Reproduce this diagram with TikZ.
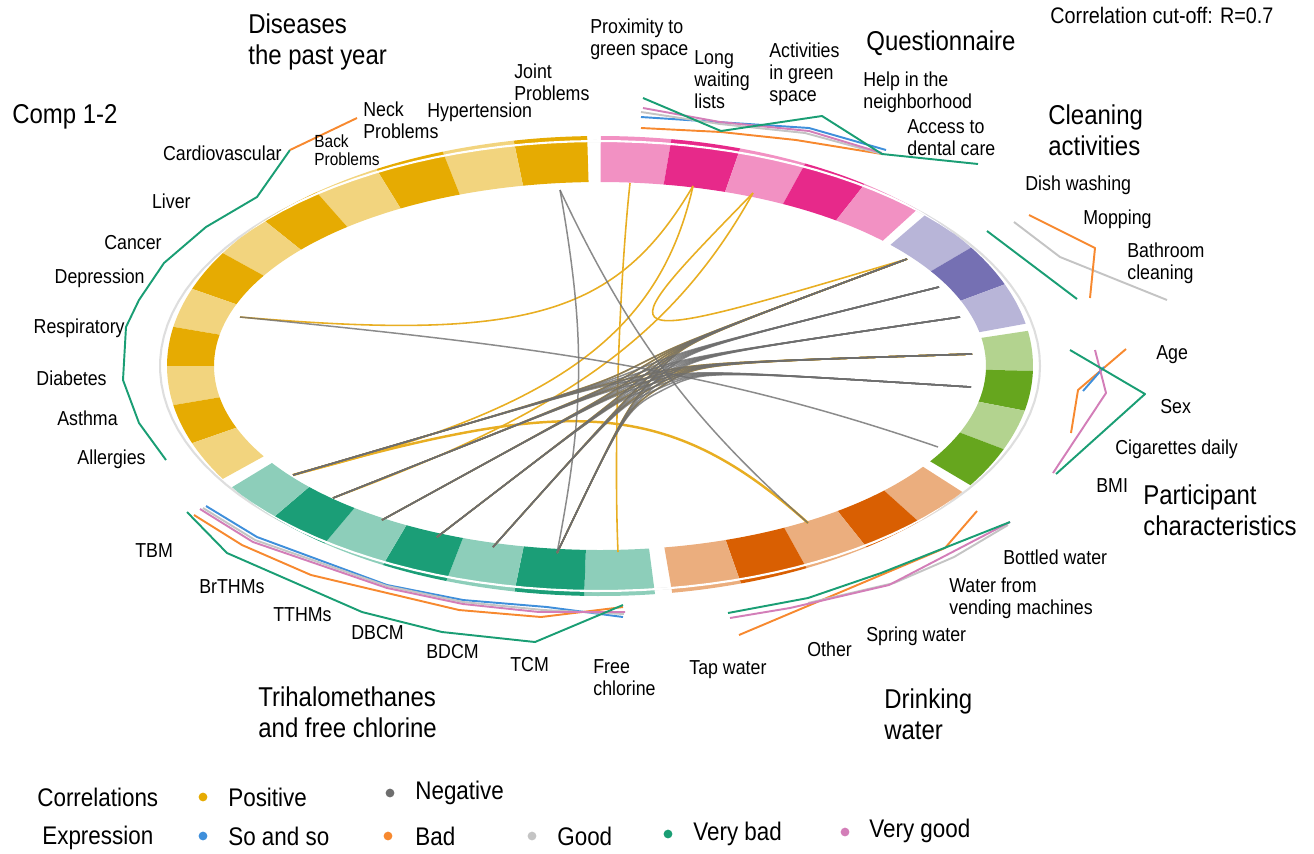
\documentclass[tikz,border=0pt]{standalone}
\usepackage{fontspec}
\setmainfont{Liberation Sans}[FakeStretch=0.88]
\usetikzlibrary{calc}
\definecolor{ydark}{HTML}{E6AB02}
\definecolor{ylight}{HTML}{F2D47E}
\definecolor{pdark}{HTML}{E7298A}
\definecolor{plight}{HTML}{F291C3}
\definecolor{vdark}{HTML}{7570B3}
\definecolor{vlight}{HTML}{B8B5D8}
\definecolor{gdark}{HTML}{66A61E}
\definecolor{glight}{HTML}{B3D38F}
\definecolor{odark}{HTML}{D95F02}
\definecolor{olight}{HTML}{EBAE7E}
\definecolor{tdark}{HTML}{1B9E77}
\definecolor{tlight}{HTML}{8DCEBA}
\definecolor{posc}{HTML}{E8AE22}
\definecolor{negc}{HTML}{6E6E6E}
\definecolor{eso}{HTML}{3F8FDB}
\definecolor{ebad}{HTML}{F7892F}
\definecolor{egood}{HTML}{C4C4C4}
\definecolor{evbad}{HTML}{1A9E74}
\definecolor{evgood}{HTML}{D37EB8}
\newcommand{\ringseg}[3]{\fill[#3] plot[domain=#1:#2,samples=12] ({600+433*cos(\x)},{366-230*sin(\x)}) -- plot[domain=#2:#1,samples=12] ({600+386*cos(\x)},{366-184*sin(\x)}) -- cycle;}
% chord: style, from, to, hub near from, hub near to, pull
\newcommand{\chordh}[6]{\draw[#1] (#2) .. controls ($(#2)!#6!(#4)$) and ($(#3)!#6!(#5)$) .. (#3);}
% bundled chord through the waist between two control points
\newcommand{\chordm}[5]{\draw[#1] (#2) .. controls (#4) .. ($(#4)!0.5!(#5)$) .. controls (#5) .. (#3);}
\tikzset{
  lab/.style={font=\fontsize{11.5}{12.5}\selectfont, align=left, inner sep=0pt},
  labl/.style={lab, anchor=west},
  labr/.style={lab, anchor=east},
  ttl/.style={font=\fontsize{15.5}{17.6}\selectfont, align=left, inner sep=0pt, anchor=west},
  leg/.style={font=\fontsize{14.5}{16}\selectfont, inner sep=0pt, anchor=west},
  poschord/.style={draw=posc, line width=0.9pt},
  negchord/.style={draw=negc, line width=0.85pt, opacity=0.8},
  expr/.style={line width=1.1pt, line join=round},
  legdot/.style={circle, inner sep=0pt, minimum size=5pt},
  track/.style={line width=1.2pt}
}
\begin{document}
\begin{tikzpicture}[x=0.02cm, y=-0.02cm]
\useasboundingbox (0,0) rectangle (1314,853);
% track ellipse (grey outside the ring, white inside it)
\draw[track, black!13] plot[domain=0:360,samples=120] ({600+440*cos(\x)},{366-225*sin(\x)});
% ring segments
\foreach \a/\b/\c in {89.9/80.5/plight, 80.5/71.1/pdark, 71.1/61.7/plight, 61.7/52.3/pdark, 52.3/42.9/plight,
  41.2/31.0/vlight, 31.0/20.8/vdark, 20.8/10.6/vlight,
  8.8/-1.2/glight, -1.2/-11.2/gdark, -11.2/-21.2/glight, -21.2/-31.2/gdark,
  -33.2/-42.6/olight, -42.6/-52.0/odark, -52.0/-61.5/olight, -61.5/-71.0/odark, -71.0/-80.4/olight,
  -82.7/-92.1/tlight, -92.1/-101.4/tdark, -101.4/-110.8/tlight, -110.8/-120.1/tdark, -120.1/-129.5/tlight, -129.5/-138.9/tdark, -138.9/-148.2/tlight,
  91.7/101.5/ydark, 101.5/111.3/ylight, 111.3/121.1/ydark, 121.1/130.9/ylight, 130.9/140.8/ydark, 140.8/150.6/ylight,
  150.6/160.4/ydark, 160.4/170.2/ylight, 170.2/180.0/ydark, 180.0/189.8/ylight, 189.8/199.6/ydark, 199.6/209.4/ylight}
  {\ringseg{\a}{\b}{\c}}
\begin{scope}
\clip plot[domain=0:360,samples=120] ({600+433*cos(\x)},{366-230*sin(\x)}) -- cycle;
\draw[track, white] plot[domain=0:360,samples=120] ({600+440*cos(\x)},{366-225*sin(\x)});
\end{scope}
% chord end points
\coordinate (joint) at (560,190);
\coordinate (prox) at (630,183);
\coordinate (longw) at (693,186);
\coordinate (activ) at (753,193);
\coordinate (dish) at (907,259);
\coordinate (mop) at (939,287);
\coordinate (bath) at (960,317);
\coordinate (age) at (972,354);
\coordinate (sex) at (971,387);
\coordinate (bmi) at (938,447);
\coordinate (spring) at (808,523);
\coordinate (freecl) at (618,552);
\coordinate (tcm) at (557,553);
\coordinate (bdcm) at (493,547);
\coordinate (dbcm) at (437,537);
\coordinate (tthm) at (382,520);
\coordinate (brthm) at (333,498);
\coordinate (tbm) at (293,475);
\coordinate (resp) at (240,317);
% bundle control points
\coordinate (c-tbm) at (596,386);
\coordinate (c-brthm) at (602,391);
\coordinate (c-tthm) at (608,396);
\coordinate (c-dbcm) at (614,401);
\coordinate (c-bdcm) at (620,405);
\coordinate (c-tcm) at (626,409);
\coordinate (c-dish) at (684,342);
\coordinate (c-mop) at (689,349);
\coordinate (c-bath) at (694,356);
\coordinate (c-age) at (698,363);
\coordinate (c-sex) at (702,370);
% other hubs
\coordinate (hubL) at (612,395);
\coordinate (hubM) at (650,378);
\coordinate (hubJ) at (592,372);
\coordinate (hubS) at (652,385);
\coordinate (hubP) at (610,368);
\coordinate (hubA) at (600,350);
\coordinate (hubW) at (598,348);
\coordinate (rb1) at (520,345);
\coordinate (rb2) at (700,365);
\coordinate (sp1) at (665,395);
\coordinate (sp2) at (565,398);
% positive chords
\foreach \t in {tbm,brthm,tthm,dbcm,bdcm,tcm}{\chordm{poschord}{\t}{dish}{c-\t}{c-dish}\chordm{poschord}{\t}{age}{c-\t}{c-age}}
\chordh{poschord}{prox}{freecl}{hubP}{hubP}{0.55}
\chordh{poschord}{longw}{resp}{hubW}{hubW}{0.8}
\chordh{poschord}{longw}{tbm}{hubM}{hubL}{0.8}
\chordh{poschord}{activ}{dish}{hubA}{hubA}{1}
\chordh{poschord}{activ}{brthm}{hubM}{hubL}{0.8}
\draw[poschord, line width=1.4pt] (spring) .. controls (sp1) and (sp2) .. (tbm);
% negative chords
\foreach \t in {tbm,brthm,tthm,dbcm,bdcm,tcm}{\foreach \r in {dish,mop,bath,age,sex}{\chordm{negchord}{\t}{\r}{c-\t}{c-\r}}}
\draw[negchord] (resp) .. controls (rb1) and (rb2) .. (bmi);
\chordh{negchord}{joint}{tcm}{hubJ}{hubJ}{0.8}
\chordh{negchord}{joint}{spring}{hubS}{hubS}{0.75}
% expression lines: Comp 1-2
\draw[expr, evbad] (166,460) -- (139,423) -- (123,380) -- (126,327) -- (139,300) -- (164,263) -- (206,227) -- (257,197) -- (290,150);
\draw[expr, ebad] (290,150) -- (357,118);
% questionnaire
\draw[expr, ebad] (641,128) -- (721,132) -- (796,140) -- (882,154);
\draw[expr, eso] (641,117) -- (809,128) -- (886,150);
\draw[expr, egood] (641,112) -- (720,124) -- (805,133) -- (882,154);
\draw[expr, evgood] (643,108) -- (720,122) -- (809,131) -- (882,153);
\draw[expr, evbad] (643,98) -- (721,131) -- (822,116) -- (882,154) -- (978,164);
% cleaning
\draw[expr, evbad] (987,231) -- (1077,299);
\draw[expr, egood] (1014,222) -- (1060,257) -- (1167,300);
\draw[expr, ebad] (1029,215) -- (1095,248) -- (1090,298);
% participant
\draw[expr, ebad] (1126,349) -- (1078,390) -- (1071,433);
\draw[expr, eso] (1104,367) -- (1083,391);
\draw[expr, evgood] (1095,350) -- (1106,393) -- (1053,473);
\draw[expr, evbad] (1070,350) -- (1145,394) -- (1056,474);
% drinking water
\draw[expr, ebad] (977,511) -- (945,548) -- (739,635);
\draw[expr, egood] (1008,525) -- (954,557) -- (894,583) -- (808,603);
\draw[expr, evgood] (1010,522) -- (889,585) -- (790,608) -- (730,618);
\draw[expr, evbad] (1010,522) -- (881,573) -- (808,598) -- (728,613);
% THMs
\draw[expr, ebad] (194,515) -- (242,545) -- (311,575) -- (459,610) -- (541,617) -- (623,607);
\draw[expr, eso] (206,506) -- (257,537) -- (387,585) -- (463,600) -- (547,607) -- (623,617);
\draw[expr, egood] (203,508) -- (255,540) -- (387,586) -- (463,602) -- (543,610) -- (624,614);
\draw[expr, evgood] (200,509) -- (253,542) -- (387,588) -- (463,604) -- (539,612) -- (625,612);
\draw[expr, evbad] (187,512) -- (227,553) -- (362,612) -- (442,632) -- (535,642) -- (623,605);
% titles
\node[ttl] (tdis) at (248,42) {Diseases\\the past year};
\node[ttl] (tcomp) at (12,117) {Comp 1-2};
\node[ttl] (tques) at (866,43) {Questionnaire};
\node[ttl] (tclean) at (1048,130) {Cleaning\\activities};
\node[ttl] (tpart) at (1143,510) {Participant\\characteristics};
\node[ttl] (tdrink) at (884,714) {Drinking\\water};
\node[ttl] (tthmt) at (258,712) {Trihalomethanes\\and free chlorine};
\node[leg, font=\fontsize{12.8}{14}\selectfont] (tcut) at (1050,15) {Correlation cut-off: R=0.7};
% item labels
\node[labl] (lprox) at (590,39) {Proximity to\\green space};
\node[labl] (llong) at (694,80) {Long\\waiting\\lists};
\node[labl] (lact) at (769,74) {Activities\\in green\\space};
\node[labl] (lhelp) at (863,92) {Help in the\\neighborhood};
\node[labl] (lacc) at (907,138) {Access to\\dental care};
\node[labl] (ldish) at (1025,185) {Dish washing};
\node[labl] (lmop) at (1083,219) {Mopping};
\node[labl] (lbath) at (1127,263) {Bathroom\\cleaning};
\node[labl] (lage) at (1156,355) {Age};
\node[labl] (lsex) at (1160,407) {Sex};
\node[labl] (lcig) at (1115,449) {Cigarettes daily};
\node[labl] (lbmi) at (1096,486) {BMI};
\node[labl] (lbot) at (1003,557) {Bottled water};
\node[labl] (lvend) at (949,598) {Water from\\vending machines};
\node[labl] (lspr) at (866,636) {Spring water};
\node[labl] (loth) at (807,649) {Other};
\node[labl] (ltap) at (689,670) {Tap water};
\node[labl] (lfree) at (593,678) {Free\\chlorine};
\node[labl] (ltcm) at (510,665) {TCM};
\node[labl] (lbdcm) at (426,652) {BDCM};
\node[labl] (ldbcm) at (351,633) {DBCM};
\node[labl] (ltthm) at (273,615) {TTHMs};
\node[labl] (lbrthm) at (199,587) {BrTHMs};
\node[labl] (ltbm) at (135,551) {TBM};
\node[labr] (lall) at (146,459) {Allergies};
\node[labr] (last) at (118,418) {Asthma};
\node[labr] (ldia) at (107,378) {Diabetes};
\node[labr] (lres) at (125,328) {Respiratory};
\node[labr] (ldep) at (145,278) {Depression};
\node[labr] (lcan) at (162,243) {Cancer};
\node[labr] (lliv) at (191,201) {Liver};
\node[labr] (lcar) at (282,153) {Cardiovascular};
\node[labl, font=\fontsize{10}{10.5}\selectfont] (lback) at (314,150) {Back\\Problems};
\node[labl] (lneck) at (363,120) {Neck\\Problems};
\node[labl] (lhyp) at (427,112) {Hypertension};
\node[labl] (ljoint) at (514,82) {Joint\\Problems};
% legend
\node[leg] (lgcor) at (37,797) {Correlations};
\node[legdot, fill=ydark] (dpos) at (203,797) {};
\node[leg] (lgpos) at (228,797) {Positive};
\node[legdot, fill=negc] (dneg) at (390,793) {};
\node[leg] (lgneg) at (415,793) {Negative};
\node[leg] (lgexp) at (42,838) {Expression};
\node[legdot, fill=eso] (dso) at (203,836) {};
\node[leg] (lgso) at (228,836) {So and so};
\node[legdot, fill=ebad] (dbad) at (388,836) {};
\node[leg] (lgbad) at (415,836) {Bad};
\node[legdot, fill=egood] (dgood) at (532,836) {};
\node[leg] (lggood) at (557,836) {Good};
\node[legdot, fill=evbad] (dvbad) at (668,834) {};
\node[leg] (lgvbad) at (693,834) {Very bad};
\node[legdot, fill=evgood] (dvgood) at (845,832) {};
\node[leg] (lgvgood) at (869,831) {Very good};
\end{tikzpicture}
\end{document}
